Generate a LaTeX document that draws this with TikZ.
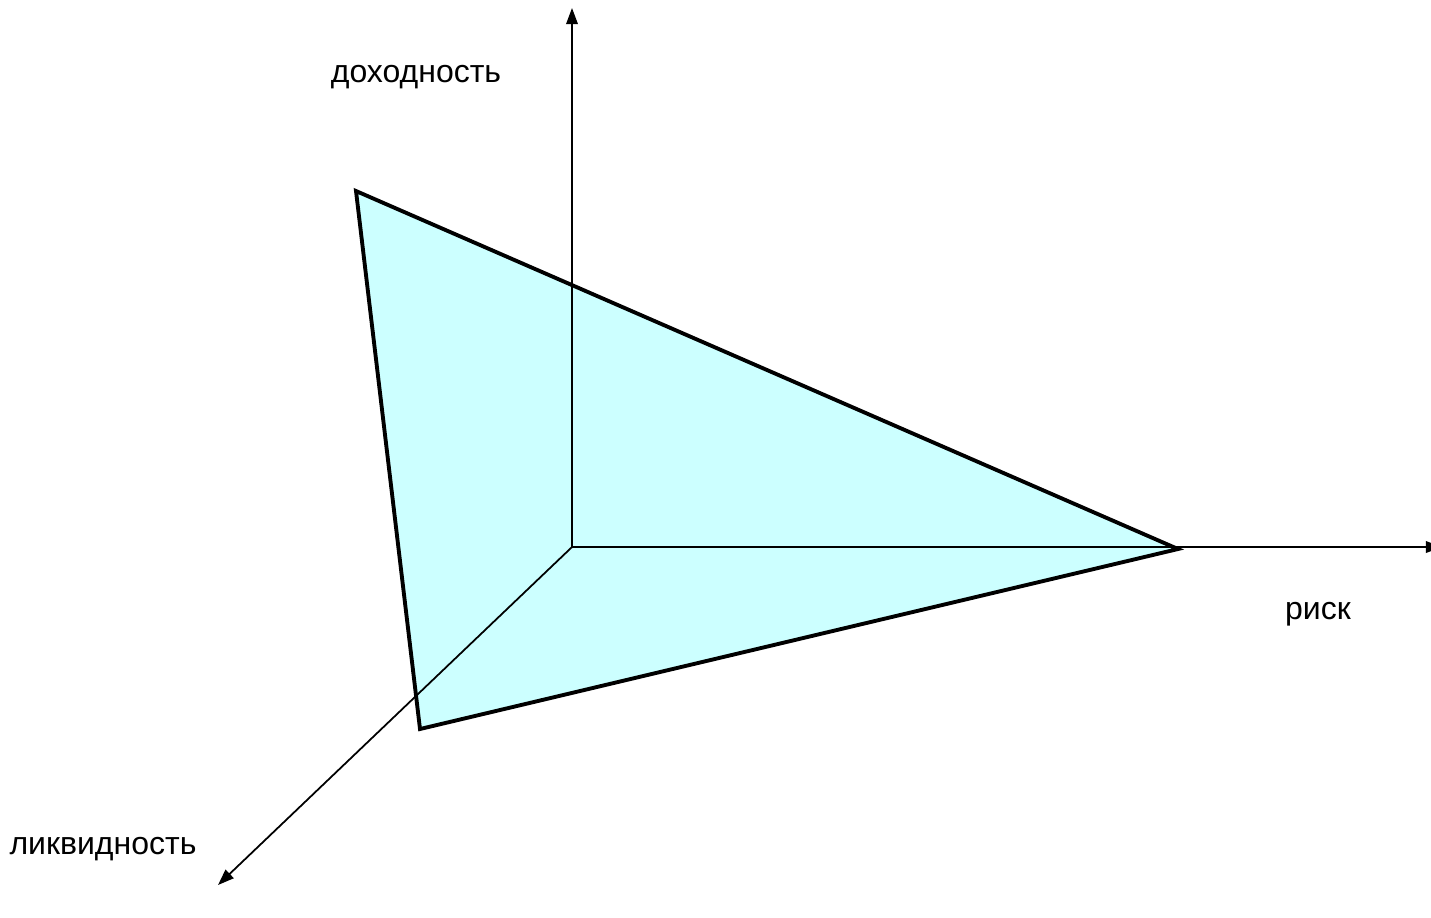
\documentclass[tikz,border=0pt]{standalone}
\usepackage{fontspec}
\setmainfont{Liberation Sans}
\usetikzlibrary{arrows.meta}
\definecolor{tri}{HTML}{CCFFFF}
\begin{document}
\begin{tikzpicture}[x=0.01cm,y=-0.01cm,
  axis/.style={line width=0.5pt,-{Triangle[length=4.6pt,width=3.3pt]}},
  lbl/.style={font=\fontsize{9.1pt}{11pt}\selectfont,inner sep=0pt},
  tribox/.style={line width=1.1pt,line join=miter}]
\useasboundingbox (0,0) rectangle (1431,917);
\coordinate (O) at (572,547);
\coordinate (Y) at (572,8);
\coordinate (X) at (1442,547);
\coordinate (Z) at (218,885);
\coordinate (A) at (356,191);
\coordinate (B) at (1178,549);
\coordinate (C) at (420,729);
\fill[tri] (A) -- (B) -- (C) -- cycle;
\draw[axis] (O) -- (Y);
\draw[axis] (O) -- (X);
\draw[axis] (O) -- (Z);
\draw[tribox] (A) -- (B) -- (C) -- cycle;
\node[lbl] (ly) at (416,77) {доходность};
\node[lbl] (lx) at (1318,614) {риск};
\node[lbl] (lz) at (103,849) {ликвидность};
\end{tikzpicture}
\end{document}
